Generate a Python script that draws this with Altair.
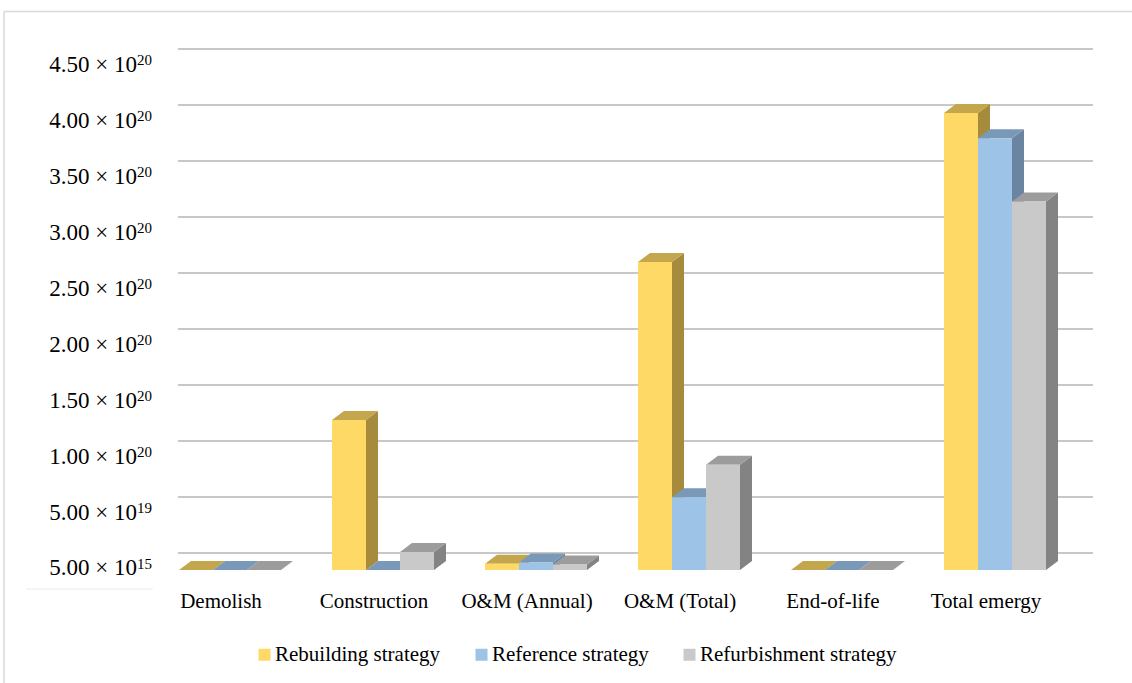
import altair as alt
import pandas as pd

# ---------------- data ----------------
categories = ["Demolish", "Construction", "O&M (Annual)", "O&M (Total)", "End-of-life", "Total emergy"]
series = ["Rebuilding strategy", "Reference strategy", "Refurbishment strategy"]
rebuilding = [5e15, 1.34e20, 5.5e18, 2.75e20, 5e15, 4.08e20]
reference = [5e15, 5e16, 6.8e18, 6.5e19, 5e15, 3.855e20]
refurbishment = [5e15, 1.6e19, 5.0e18, 9.4e19, 5e15, 3.29e20]

front_colors = ["#FFD966", "#9DC3E6", "#C9C9C9"]
top_colors = ["#C4A64C", "#7A98B8", "#9C9C9C"]
side_colors = ["#A68B3D", "#6A84A2", "#838383"]

ytick_values = [5e15, 5e19, 1e20, 1.5e20, 2e20, 2.5e20, 3e20, 3.5e20, 4e20, 4.5e20]
ytick_mantissa = ["5.00", "5.00", "1.00", "1.50", "2.00", "2.50", "3.00", "3.50", "4.00", "4.50"]
ytick_exponent = ["15", "19", "20", "20", "20", "20", "20", "20", "20", "20"]

# ---------------- layout / style constants (pixels) ----------------
W, H = 918, 560            # plot area
Y_MAX = 5e20
CAT_PX = W / len(categories)
BAR_PX, GAP_PX = 34, 1
DEPTH_X_PX, DEPTH_Y_PX = 12, 9
BW = BAR_PX / CAT_PX
G = GAP_PX / CAT_PX
DX = DEPTH_X_PX / CAT_PX
DY = DEPTH_Y_PX / H * Y_MAX
FONT = "Liberation Serif"

rows, corner_rows = [], []
for j, (s, vals) in enumerate(zip(series, [rebuilding, reference, refurbishment])):
    for i, c in enumerate(categories):
        xl = i + G + BW * j
        xr = xl + BW
        rows.append({"cat": c, "series": s, "value": vals[i], "xl": xl, "xr": xr, "zero": 0})
        for k in (0, 1):
            corner_rows.append({
                "bar": f"{i}-{j}", "k": k,
                "tx1": xl + k * DX, "tx2": xr + k * DX,
                "ty": vals[i] + k * DY, "sy2": k * DY,
                "top": top_colors[j], "side": side_colors[j],
            })
df = pd.DataFrame(rows)
cdf = pd.DataFrame(corner_rows)

xs = alt.Scale(domain=[0, len(categories)], nice=False, zero=False)
ys = alt.Scale(domain=[0, Y_MAX], nice=False, zero=False)

side = alt.Chart(cdf).mark_area(orient="vertical").encode(
    x=alt.X("tx2:Q", scale=xs, axis=None),
    y=alt.Y("ty:Q", scale=ys, axis=None, stack=None),
    y2="sy2:Q",
    color=alt.Color("side:N", scale=None),
    detail="bar:N",
)

top = alt.Chart(cdf).mark_area(orient="horizontal").encode(
    y=alt.Y("ty:Q", scale=ys, axis=None),
    x=alt.X("tx1:Q", scale=xs, axis=None, stack=None),
    x2="tx2:Q",
    color=alt.Color("top:N", scale=None),
    detail="bar:N",
)

front = alt.Chart(df).mark_rect().encode(
    x=alt.X("xl:Q", scale=xs, axis=None),
    x2="xr:Q",
    y=alt.Y("value:Q", scale=ys, axis=None),
    y2="zero:Q",
    color=alt.Color(
        "series:N",
        scale=alt.Scale(domain=series, range=front_colors),
        sort=series,
        legend=alt.Legend(
            title=None, orient="none", legendX=76, legendY=634, direction="horizontal",
            symbolType="square", symbolSize=144, symbolStrokeWidth=0,
            labelFont=FONT, labelFontSize=21, labelColor="#000000", labelLimit=0,
            labelOffset=0, columnPadding=30, padding=0,
        ),
    ),
)

ticks_df = pd.DataFrame({"v": ytick_values, "m": [m + " × 10" for m in ytick_mantissa], "e": ytick_exponent})

grid = alt.Chart(ticks_df).mark_rule(color="#C8C8C8", strokeWidth=2, yOffset=-17).encode(
    y=alt.Y("v:Q", scale=ys, axis=None),
    x=alt.value(0),
    x2=alt.value(915),
)

ylab_main = alt.Chart(ticks_df).mark_text(
    align="right", baseline="alphabetic", font=FONT, fontSize=23, dy=5.5, color="#000000"
).encode(y=alt.Y("v:Q", scale=ys, axis=None), x=alt.value(-41), text="m:N")

ylab_exp = alt.Chart(ticks_df).mark_text(
    align="left", baseline="alphabetic", font=FONT, fontSize=15, dy=-1, color="#000000"
).encode(y=alt.Y("v:Q", scale=ys, axis=None), x=alt.value(-41), text="e:N")

cat_df = pd.DataFrame({"ci": list(range(len(categories))), "cat": categories})
xlab = alt.Chart(cat_df).mark_text(
    align="center", baseline="alphabetic", font=FONT, fontSize=21, dx=43, color="#000000"
).encode(x=alt.X("ci:Q", scale=xs, axis=None), y=alt.value(598), text="cat:N")

frame_df = pd.DataFrame({"a": [0]})
frame_left = alt.Chart(frame_df).mark_rule(color="#D9D9D9", strokeWidth=1.5).encode(
    x=alt.value(-174), y=alt.value(1.5), y2=alt.value(673)
)
frame_top = alt.Chart(frame_df).mark_rule(color="#D9D9D9", strokeWidth=1.5).encode(
    x=alt.value(-174), x2=alt.value(954), y=alt.value(1.5)
)
green_line = alt.Chart(frame_df).mark_rule(color="#E3EFE3", strokeWidth=1).encode(
    x=alt.value(-152), x2=alt.value(-25), y=alt.value(579)
)

chart = alt.layer(
    frame_left, frame_top, green_line, grid, side, top, front, ylab_main, ylab_exp, xlab
).properties(
    width=W, height=H,
    padding={"left": 178, "top": 10, "right": 36, "bottom": 113},
    autosize=alt.AutoSizeParams(type="none"),
    background="#FFFFFF",
).configure_view(stroke=None)

chart.save("out.html", embed_options={"renderer": "svg", "actions": False})
